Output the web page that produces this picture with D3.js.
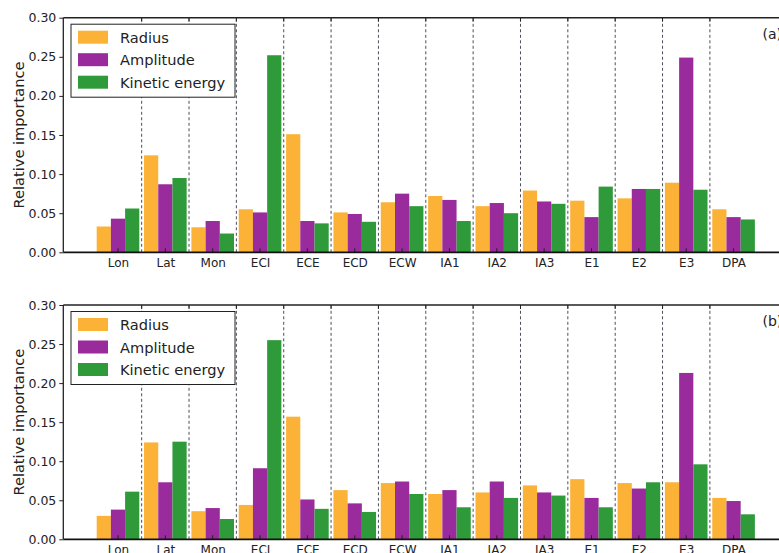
<!DOCTYPE html>
<html>
<head>
<meta charset="utf-8">
<script src="https://cdn.jsdelivr.net/npm/d3@7"></script>
<style>
  html, body { margin: 0; padding: 0; background: #fff; overflow: hidden; }
  svg { display: block; font-family: "DejaVu Sans", sans-serif; }
</style>
</head>
<body>
<svg id="chart" width="779" height="553"></svg>
<script>
// Predictor categories along the x axis
const categories = ["Lon", "Lat", "Mon", "ECI", "ECE", "ECD", "ECW", "IA1", "IA2", "IA3", "E1", "E2", "E3", "DPA"];
const seriesNames = ["Radius", "Amplitude", "Kinetic energy"];
const seriesColors = ["#fbb236", "#9a2b9c", "#2f9a3a"];
const yTicks = [0.00, 0.05, 0.10, 0.15, 0.20, 0.25, 0.30];

// Panel (a)
const radiusA    = [0.033, 0.124, 0.032, 0.055, 0.151, 0.051, 0.064, 0.072, 0.059, 0.079, 0.066, 0.069, 0.089, 0.055];
const amplitudeA = [0.043, 0.087, 0.040, 0.051, 0.040, 0.049, 0.075, 0.067, 0.063, 0.065, 0.045, 0.081, 0.249, 0.045];
const kineticA   = [0.056, 0.095, 0.024, 0.252, 0.037, 0.039, 0.059, 0.040, 0.050, 0.062, 0.084, 0.081, 0.080, 0.042];

// Panel (b)
const radiusB    = [0.030, 0.124, 0.036, 0.044, 0.157, 0.063, 0.072, 0.058, 0.060, 0.069, 0.077, 0.072, 0.073, 0.053];
const amplitudeB = [0.038, 0.073, 0.040, 0.091, 0.051, 0.046, 0.074, 0.063, 0.074, 0.060, 0.053, 0.065, 0.213, 0.049];
const kineticB   = [0.061, 0.125, 0.026, 0.255, 0.039, 0.035, 0.058, 0.041, 0.053, 0.056, 0.041, 0.073, 0.096, 0.032];

const panels = [
  { tag: "(a)", top: 17.7, bottom: 252.3, series: [radiusA, amplitudeA, kineticA] },
  { tag: "(b)", top: 305,  bottom: 539.3, series: [radiusB, amplitudeB, kineticB] }
];

const svg = d3.select("#chart");
const left = 63.3, right = 804.6;
const x = d3.scaleLinear().domain([-1.155, 14.5]).range([left, right]);
const groupWidth = 0.9;
const barW = groupWidth / seriesNames.length;

panels.forEach(p => {
  const y = d3.scaleLinear().domain([0, 0.30]).range([p.bottom, p.top]);
  const g = svg.append("g");

  // bars
  p.series.forEach((vals, j) => {
    g.append("g").selectAll("rect").data(vals).join("rect")
      .attr("x", (d, i) => x(i - groupWidth / 2 + j * barW))
      .attr("width", x(barW) - x(0))
      .attr("y", d => y(d))
      .attr("height", d => y(0) - y(d))
      .attr("fill", seriesColors[j]);
  });

  // dashed separators between categories
  const seps = d3.range(categories.length - 1).map(i => i + 0.5);
  g.append("g").selectAll("line").data(seps).join("line")
    .attr("x1", d => x(d)).attr("x2", d => x(d))
    .attr("y1", p.bottom).attr("y2", p.top)
    .attr("stroke", "#4a4f5a").attr("stroke-width", 1)
    .attr("stroke-dasharray", "3,2.5");

  // small ticks on top spine at separators
  g.append("g").selectAll("line").data(seps).join("line")
    .attr("x1", d => x(d)).attr("x2", d => x(d))
    .attr("y1", p.top).attr("y2", p.top + 4)
    .attr("stroke", "#222").attr("stroke-width", 1);

  // category tick marks (inward) at bottom
  g.append("g").selectAll("line").data(categories).join("line")
    .attr("x1", (d, i) => x(i)).attr("x2", (d, i) => x(i))
    .attr("y1", p.bottom).attr("y2", p.bottom - 4)
    .attr("stroke", "#222").attr("stroke-width", 1);

  // x axis labels
  const xAxis = d3.axisBottom(x)
    .tickValues(d3.range(categories.length))
    .tickFormat(i => categories[i])
    .tickSize(0).tickPadding(6);
  const gx = g.append("g").attr("transform", `translate(0,${p.bottom})`).call(xAxis);
  gx.select(".domain").remove();
  gx.selectAll("text").attr("font-size", 12).attr("fill", "#222").attr("font-family", "DejaVu Sans, sans-serif");

  // y axis
  const yAxis = d3.axisLeft(y).tickValues(yTicks).tickFormat(d3.format(".2f")).tickSize(4).tickPadding(3);
  const gy = g.append("g").attr("transform", `translate(${left},0)`).call(yAxis);
  gy.select(".domain").remove();
  gy.selectAll("text").attr("font-size", 12.5).attr("fill", "#222").attr("font-family", "DejaVu Sans, sans-serif");
  gy.selectAll("line").attr("stroke", "#222");

  // spines
  g.append("line").attr("x1", left).attr("x2", right).attr("y1", p.top).attr("y2", p.top)
    .attr("stroke", "#222").attr("stroke-width", 1.6);
  g.append("line").attr("x1", left).attr("x2", right).attr("y1", p.bottom).attr("y2", p.bottom)
    .attr("stroke", "#111").attr("stroke-width", 1.8);
  g.append("line").attr("x1", left).attr("x2", left).attr("y1", p.top).attr("y2", p.bottom)
    .attr("stroke", "#222").attr("stroke-width", 1.3);

  // y label
  g.append("text")
    .attr("transform", `translate(18,${(p.top + p.bottom) / 2}) rotate(-90)`)
    .attr("text-anchor", "middle").attr("dominant-baseline", "central")
    .attr("font-size", 14.6).attr("fill", "#222")
    .text("Relative importance");

  // panel tag
  g.append("text").attr("x", 762.5).attr("y", p.top + 21)
    .attr("font-size", 14).attr("fill", "#222").text(p.tag);

  // legend
  const lg = g.append("g").attr("transform", `translate(71,${p.top + 6.5})`);
  lg.append("rect").attr("x", 0).attr("y", 0).attr("width", 164).attr("height", 73)
    .attr("fill", "#fff").attr("stroke", "#222").attr("stroke-width", 1);
  seriesNames.forEach((name, j) => {
    const cy = 13 + j * 22.5;
    lg.append("rect").attr("x", 7).attr("y", cy - 6.5).attr("width", 30).attr("height", 13)
      .attr("fill", seriesColors[j]);
    lg.append("text").attr("x", 49).attr("y", cy).attr("dominant-baseline", "central")
      .attr("font-size", 14.6).attr("fill", "#222").text(name);
  });
});
</script>
</body>
</html>
